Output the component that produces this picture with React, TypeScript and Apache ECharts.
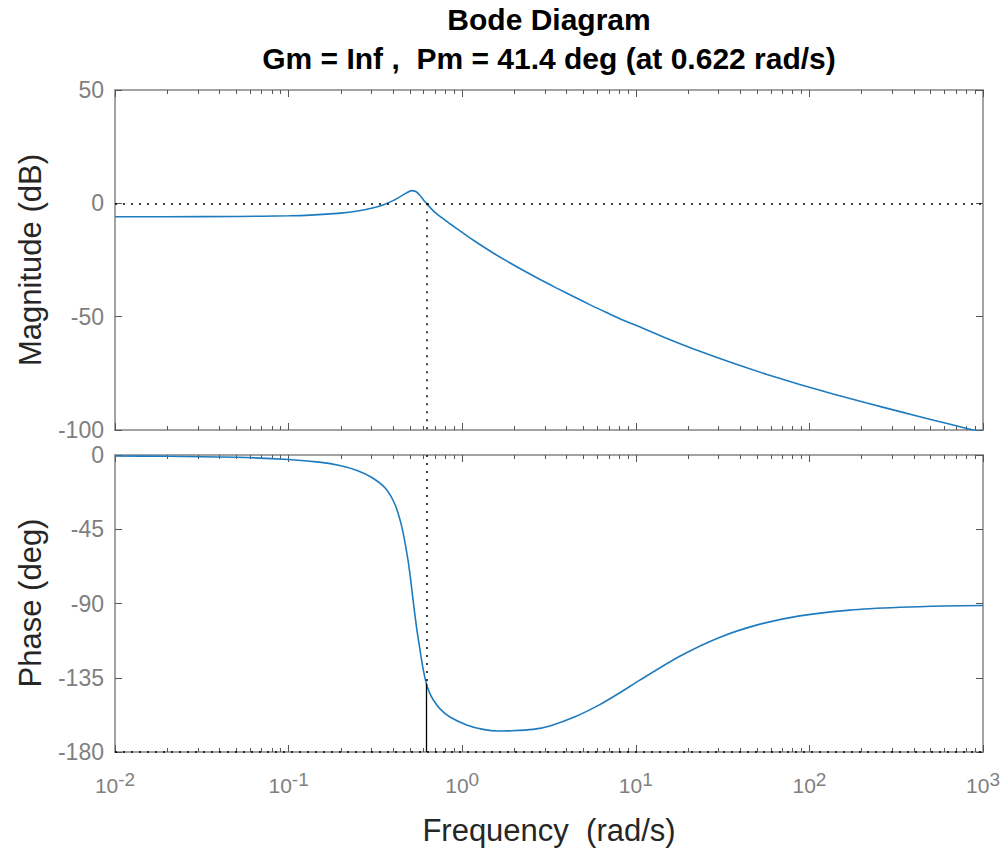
import React, { useEffect, useRef } from "react";
import * as echarts from "echarts";

// ---------- texts ----------
const TITLE_LINE_1 = "Bode Diagram";
const TITLE_LINE_2 = "Gm = Inf ,  Pm = 41.4 deg (at 0.622 rad/s)";
const X_LABEL = "Frequency  (rad/s)";
const Y_LABEL_MAG = "Magnitude (dB)";
const Y_LABEL_PHASE = "Phase (deg)";

// ---------- axis ranges ----------
const FREQ_MIN = 0.01;
const FREQ_MAX = 1000;
const MAG_MIN = -100;
const MAG_MAX = 50;
const MAG_STEP = 50;
const PH_MIN = -180;
const PH_MAX = 0;
const PH_STEP = 45;

// ---------- margin markers ----------
const PM_FREQ = 0.622;
const PM_PHASE = -138.6;
const MAG_REF = 0;
const PHASE_REF = -180;

// ---------- magnitude (dB) ----------
const MAG_FREQS = [
  0.01, 0.02, 0.05, 0.1, 0.133, 0.2, 0.25, 0.3, 0.35, 0.4, 0.45, 0.48, 0.51,
  0.54, 0.57, 0.6, 0.622, 0.68, 0.745, 0.85, 1.0, 1.16, 1.5, 1.8, 2.2, 2.81,
  3.5, 4.37, 5.5, 6.8, 8.5, 10.6, 15, 23.4, 36.5, 57, 88, 137, 214, 333, 520,
  806, 1000,
];
const MAG_DB = [
  -5.9, -5.9, -5.8, -5.5, -5.2, -4.3, -3.4, -2.2, -0.7, 1.2, 3.4, 4.7, 5.6,
  5.2, 3.6, 1.4, 0, -3.2, -5.8, -9.0, -12.8, -16.3, -21.8, -25.4, -29.2,
  -33.6, -37.4, -41.1, -44.9, -48.2, -51.6, -54.6, -59.5, -65.3, -70.6,
  -75.5, -79.9, -84.1, -88.1, -91.9, -95.7, -99.3, -101.1,
];

// ---------- phase (deg) ----------
const PH_FREQS = [
  0.01, 0.02, 0.05, 0.1, 0.15, 0.2, 0.25, 0.3, 0.36, 0.41, 0.45, 0.48, 0.5,
  0.52, 0.545, 0.571, 0.595, 0.622, 0.65, 0.682, 0.75, 0.85, 1.06, 1.32, 1.6,
  1.88, 2.56, 3.2, 4.5, 6.2, 8, 10.6, 17.8, 30.1, 50.8, 88, 171, 333, 600,
  1000,
];
const PH_DEG = [
  -0.6, -0.8, -1.4, -2.7, -4.3, -6.5, -9.5, -13.5, -20, -30, -44, -59.5, -72,
  -87, -104, -118, -129.5, -138.6, -144.3, -148.5, -154.2, -158.8, -163.6,
  -166.3, -167.3, -167.2, -166.3, -164.2, -158.5, -151.3, -144.4, -136.3,
  -122.1, -110.7, -102.8, -97.5, -94.0, -92.3, -91.5, -91.2,
];

// ---------- styles ----------
const FONT = '"Liberation Sans", Arial, Helvetica, sans-serif';
const CURVE_COLOR = "#1f7bbf";
const BOX_COLOR = "#a3a3a3";
const TICK_COLOR = "#555555";
const TICK_LABEL_COLOR = "#7f7f7f";
const LABEL_COLOR = "#262626";

const EXP_MIN = Math.round(Math.log10(FREQ_MIN));
const EXP_MAX = Math.round(Math.log10(FREQ_MAX));
const MINOR_EXPS: number[] = [];
for (let d = EXP_MIN; d < EXP_MAX; d++) {
  for (let m = 2; m <= 9; m++) MINOR_EXPS.push(d + Math.log10(m));
}

function pairs(xs: number[], ys: number[]) {
  return xs.map((x, i) => [x, ys[i]]);
}

const NO_LINE = { show: false, onZero: false };

function logAxis(gridIndex: number, position: string, showLabels: boolean) {
  return {
    type: "log",
    logBase: 10,
    min: FREQ_MIN,
    max: FREQ_MAX,
    gridIndex,
    position,
    axisLine: NO_LINE,
    splitLine: { show: false },
    axisTick: {
      show: true,
      inside: true,
      length: 7,
      lineStyle: { color: TICK_COLOR, width: 1 },
    },
    axisLabel: showLabels
      ? {
          show: true,
          margin: 18,
          showMinLabel: true,
          showMaxLabel: true,
          formatter: (v: number) => `{b|10}{s|${Math.round(Math.log10(v))}}`,
          rich: {
            b: {
              fontSize: 21,
              lineHeight: 21,
              padding: [9, 0, 0, 0],
              color: TICK_LABEL_COLOR,
              fontFamily: FONT,
            },
            s: {
              fontSize: 19,
              lineHeight: 19,
              verticalAlign: "top",
              color: TICK_LABEL_COLOR,
              fontFamily: FONT,
            },
          },
        }
      : { show: false },
  };
}

function minorAxis(gridIndex: number, position: string) {
  return {
    type: "value",
    min: EXP_MIN,
    max: EXP_MAX,
    gridIndex,
    position,
    axisLine: NO_LINE,
    splitLine: { show: false },
    axisLabel: { show: false },
    axisTick: {
      show: true,
      inside: true,
      length: 4,
      customValues: MINOR_EXPS,
      lineStyle: { color: TICK_COLOR, width: 1 },
    },
  };
}

function yAxis(
  gridIndex: number,
  position: string,
  min: number,
  max: number,
  interval: number,
  showLabels: boolean
) {
  return {
    type: "value",
    gridIndex,
    position,
    min,
    max,
    interval,
    axisLine: NO_LINE,
    splitLine: { show: false },
    axisTick: {
      show: true,
      inside: true,
      length: 7,
      lineStyle: { color: TICK_COLOR, width: 1 },
    },
    axisLabel: showLabels
      ? {
          show: true,
          margin: 11,
          fontSize: 23,
          color: TICK_LABEL_COLOR,
          fontFamily: FONT,
          showMinLabel: true,
          showMaxLabel: true,
        }
      : { show: false },
  };
}

const DOTTED = { color: "#000", width: 1.5, type: [2, 6] as any };
const SOLID = { color: "#000", width: 1.3, type: "solid" };

function buildOption(): any {
  const gridBase = {
    left: 115,
    width: 868,
    show: true,
    borderColor: BOX_COLOR,
    borderWidth: 2,
    backgroundColor: "#ffffff",
    containLabel: false,
    outerBoundsMode: "none",
  };
  const text = (
    t: string,
    x: number,
    y: number,
    font: string,
    fill: string,
    rotation = 0
  ) => ({
    type: "text",
    x,
    y,
    rotation,
    silent: true,
    style: {
      text: t,
      font,
      fill,
      textAlign: "center",
      align: "center",
      textVerticalAlign: "middle",
      verticalAlign: "middle",
    },
  });
  return {
    animation: false,
    backgroundColor: "#ffffff",
    grid: [
      { ...gridBase, top: 90, height: 340 },
      { ...gridBase, top: 455, height: 297 },
    ],
    xAxis: [
      logAxis(0, "bottom", false),
      logAxis(0, "top", false),
      minorAxis(0, "bottom"),
      minorAxis(0, "top"),
      logAxis(1, "bottom", true),
      logAxis(1, "top", false),
      minorAxis(1, "bottom"),
      minorAxis(1, "top"),
    ],
    yAxis: [
      yAxis(0, "left", MAG_MIN, MAG_MAX, MAG_STEP, true),
      yAxis(0, "right", MAG_MIN, MAG_MAX, MAG_STEP, false),
      yAxis(1, "left", PH_MIN, PH_MAX, PH_STEP, true),
      yAxis(1, "right", PH_MIN, PH_MAX, PH_STEP, false),
    ],
    series: [
      {
        name: "Magnitude",
        type: "line",
        xAxisIndex: 0,
        yAxisIndex: 0,
        data: pairs(MAG_FREQS, MAG_DB),
        showSymbol: false,
        symbol: "none",
        smooth: 0.25,
        lineStyle: { color: CURVE_COLOR, width: 1.6 },
        z: 3,
        markLine: {
          silent: true,
          symbol: ["none", "none"],
          label: { show: false },
          lineStyle: DOTTED,
          data: [
            { yAxis: MAG_REF, lineStyle: DOTTED },
            [
              { coord: [PM_FREQ, MAG_REF], lineStyle: DOTTED },
              { coord: [PM_FREQ, MAG_MIN] },
            ],
          ],
        },
      },
      {
        name: "Phase",
        type: "line",
        xAxisIndex: 4,
        yAxisIndex: 2,
        data: pairs(PH_FREQS, PH_DEG),
        showSymbol: false,
        symbol: "none",
        smooth: 0.25,
        lineStyle: { color: CURVE_COLOR, width: 1.6 },
        z: 3,
        markLine: {
          silent: true,
          symbol: ["none", "none"],
          label: { show: false },
          lineStyle: DOTTED,
          data: [
            { yAxis: PHASE_REF, lineStyle: DOTTED },
            [
              { coord: [PM_FREQ, PH_MAX], lineStyle: DOTTED },
              { coord: [PM_FREQ, PM_PHASE] },
            ],
            [
              { coord: [PM_FREQ, PM_PHASE], lineStyle: SOLID },
              { coord: [PM_FREQ, PHASE_REF] },
            ],
          ],
        },
      },
    ],
    graphic: [
      text(TITLE_LINE_1, 549, 19, `bold 30px ${FONT}`, "#000"),
      text(TITLE_LINE_2, 549, 58, `bold 30px ${FONT}`, "#000"),
      text(Y_LABEL_MAG, 30, 260, `31px ${FONT}`, LABEL_COLOR, Math.PI / 2),
      text(Y_LABEL_PHASE, 30, 603, `31px ${FONT}`, LABEL_COLOR, Math.PI / 2),
      text(X_LABEL, 549, 830, `31px ${FONT}`, LABEL_COLOR),
    ],
  };
}

export default function App() {
  const ref = useRef<HTMLDivElement>(null);
  useEffect(() => {
    document.body.style.margin = "0";
    const chart = echarts.init(ref.current as HTMLDivElement, null, {
      renderer: "svg",
    });
    chart.setOption(buildOption());
    return () => chart.dispose();
  }, []);
  return <div ref={ref} style={{ width: 1008, height: 850 }} />;
}
